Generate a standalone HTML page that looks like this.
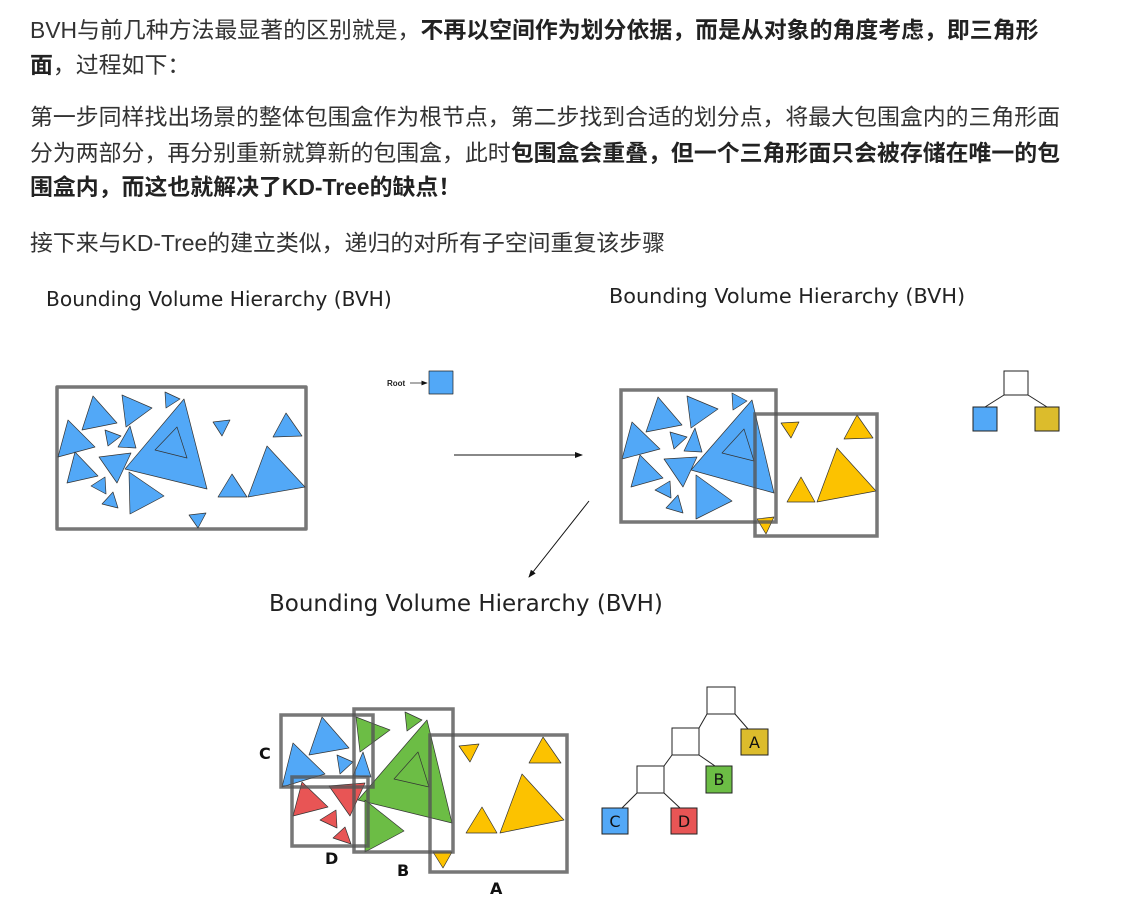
<!DOCTYPE html>
<html><head><meta charset="utf-8">
<style>
html,body{margin:0;padding:0;background:#fff;width:1134px;height:914px;overflow:hidden;position:relative}
.t{position:absolute;left:30px;font-family:"Liberation Sans","Noto Sans CJK SC",sans-serif;font-size:22.9px;color:#333;white-space:nowrap;line-height:30px}
b{font-weight:bold;color:#222}
.h{position:absolute;font-family:"DejaVu Sans","Liberation Sans",sans-serif;color:#222;white-space:nowrap}
svg{position:absolute;left:0;top:0}
</style></head><body>
<div class="t" style="top:15px">BVH与前几种方法最显著的区别就是，<b>不再以空间作为划分依据，而是从对象的角度考虑，即三角形</b></div>
<div class="t" style="top:50px"><b>面</b>，过程如下：</div>
<div class="t" style="top:102px">第一步同样找出场景的整体包围盒作为根节点，第二步找到合适的划分点，将最大包围盒内的三角形面</div>
<div class="t" style="top:138px">分为两部分，再分别重新就算新的包围盒，此时<b>包围盒会重叠，但一个三角形面只会被存储在唯一的包</b></div>
<div class="t" style="top:172px"><b>围盒内，而这也就解决了KD-Tree的缺点！</b></div>
<div class="t" style="top:228px">接下来与KD-Tree的建立类似，递归的对所有子空间重复该步骤</div>
<div class="h" style="left:46px;top:287px;font-size:20.2px">Bounding Volume Hierarchy (BVH)</div>
<div class="h" style="left:609px;top:284px;font-size:20.8px">Bounding Volume Hierarchy (BVH)</div>
<div class="h" style="left:269px;top:591px;font-size:23px">Bounding Volume Hierarchy (BVH)</div>
<svg width="1134" height="914" viewBox="0 0 1134 914">
<defs><marker id="ar" markerWidth="8" markerHeight="8" refX="7" refY="4" orient="auto"><path d="M0,1 L8,4 L0,7 z" fill="#111"/></marker></defs>
<g stroke="#333" stroke-width="0.7" stroke-linejoin="round">
<rect x="57" y="387" width="249" height="142" fill="#fff" stroke="#777" stroke-width="3.5"/>
<g fill="#52a8f7">
<polygon points="93,396 117,423 82,430"/><polygon points="122,395 152,408 126,427"/><polygon points="165,392 180,399 166,408"/>
<polygon points="184,399 207,489 125,469"/><polygon points="177,427 155,450 187,458"/>
<polygon points="68,420 95,447 58,457"/><polygon points="105,430 121,436 108,446"/><polygon points="130,426 136,448 118,447"/>
<polygon points="99,457 131,453 117,483"/><polygon points="75,452 98,476 67,483"/><polygon points="105,477 106,494 91,486"/>
<polygon points="113,492 118,508 102,504"/><polygon points="129,472 164,496 130,514"/><polygon points="213,422 230,420 222,436"/>
<polygon points="286,413 302,436 273,437"/><polygon points="232,474 247,497 218,497"/><polygon points="267,446 305,487 248,497"/>
<polygon points="189,515 206,513 198,528"/>
</g>
<rect x="429" y="371" width="24" height="23" fill="#52a8f7" stroke="#222"/>
</g>
<text x="387" y="386" font-family="Liberation Sans,sans-serif" font-size="8" font-weight="bold" fill="#222">Root</text>
<line x1="410" y1="383" x2="427" y2="383" stroke="#222" stroke-width="0.8" marker-end="url(#ar)"/>
<line x1="454" y1="455" x2="582" y2="455" stroke="#111" stroke-width="1" marker-end="url(#ar)"/>
<line x1="589" y1="501" x2="529" y2="577" stroke="#111" stroke-width="1" marker-end="url(#ar)"/>
<g stroke="#333" stroke-width="0.7" stroke-linejoin="round">
<g fill="#52a8f7">
<polygon points="658,397 682,425 646,432"/><polygon points="687,396 718,409 691,428"/><polygon points="732,393 747,401 733,410"/>
<polygon points="752,400 774,493 691,470"/><polygon points="744,429 722,453 754,461"/>
<polygon points="632,422 660,449 622,459"/><polygon points="670,432 687,437 674,449"/><polygon points="695,428 702,452 684,451"/>
<polygon points="664,459 697,457 683,487"/><polygon points="640,455 663,478 631,487"/><polygon points="670,481 671,498 655,490"/>
<polygon points="678,495 683,513 666,508"/><polygon points="696,475 732,501 696,519"/>
</g>
<g fill="#fcc200">
<polygon points="781,423 799,422 791,438"/><polygon points="857,415 873,438 844,439"/><polygon points="837,448 876,491 817,502"/>
<polygon points="801,477 815,502 787,502"/><polygon points="757,519 774,517 766,534"/>
</g>
</g>
<g fill="none" stroke="#555" stroke-opacity="0.8" stroke-width="3.5">
<rect x="621" y="390" width="155" height="132"/><rect x="755" y="414" width="122" height="122"/>
</g>
<g stroke="#222" stroke-width="1">
<line x1="1004" y1="395" x2="985" y2="407"/><line x1="1028" y1="395" x2="1047" y2="407"/>
<rect x="1004" y="371" width="24" height="24" fill="#fff"/>
<rect x="973" y="407" width="24" height="24" fill="#52a8f7"/>
<rect x="1035" y="407" width="24" height="24" fill="#dcbc2c"/>
</g>
<g stroke="#333" stroke-width="0.7" stroke-linejoin="round">
<g fill="#52a8f7">
<polygon points="322,717 349,748 309,755"/><polygon points="293,743 325,774 282,787"/><polygon points="337,755 353,762 340,774"/><polygon points="363,752 371,777 353,776"/>
</g>
<g fill="#e85555">
<polygon points="302,782 328,807 293,816"/><polygon points="329,786 365,783 350,816"/><polygon points="336,810 337,828 320,820"/><polygon points="345,827 351,844 333,838"/>
</g>
<g fill="#6cbd45">
<polygon points="356,717 390,730 360,752"/><polygon points="405,712 422,720 407,731"/>
<polygon points="427,720 452,823 358,800"/><polygon points="418,752 394,779 429,787"/>
<polygon points="365,800 404,831 365,852"/>
</g>
<g fill="#fcc200">
<polygon points="459,746 479,744 470,762"/><polygon points="543,737 561,763 529,763"/><polygon points="522,774 564,820 500,833"/>
<polygon points="482,807 497,833 466,833"/><polygon points="433,852 452,852 443,868"/>
</g>
</g>
<g fill="none" stroke="#555" stroke-opacity="0.8" stroke-width="3.5">
<rect x="281" y="715" width="92" height="72"/><rect x="292" y="777" width="76" height="69"/>
<rect x="354" y="709" width="99" height="143"/><rect x="430" y="735" width="137" height="137"/>
</g>
<g font-family="DejaVu Sans,sans-serif" font-size="16" font-weight="bold" fill="#111">
<text x="259" y="759">C</text><text x="325" y="864">D</text><text x="397" y="876">B</text><text x="490" y="894">A</text>
</g>
<g stroke="#222" stroke-width="1">
<line x1="707" y1="714" x2="699" y2="728"/><line x1="735" y1="714" x2="748" y2="729"/>
<line x1="672" y1="755" x2="664" y2="766"/><line x1="699" y1="755" x2="715" y2="766"/>
<line x1="637" y1="793" x2="622" y2="808"/><line x1="664" y1="793" x2="680" y2="808"/>
<rect x="707" y="687" width="28" height="27" fill="#fff"/>
<rect x="672" y="728" width="27" height="27" fill="#fff"/>
<rect x="741" y="729" width="27" height="26" fill="#dcbc2c"/>
<rect x="637" y="766" width="27" height="27" fill="#fff"/>
<rect x="706" y="766" width="26" height="27" fill="#6cbd45"/>
<rect x="602" y="808" width="26" height="26" fill="#52a8f7"/>
<rect x="671" y="808" width="26" height="26" fill="#e85555"/>
</g>
<g font-family="DejaVu Sans,sans-serif" font-size="16" fill="#111" text-anchor="middle">
<text x="754.5" y="748">A</text><text x="719" y="785">B</text><text x="615" y="827">C</text><text x="684" y="827">D</text>
</g>
</svg>
</body></html>
